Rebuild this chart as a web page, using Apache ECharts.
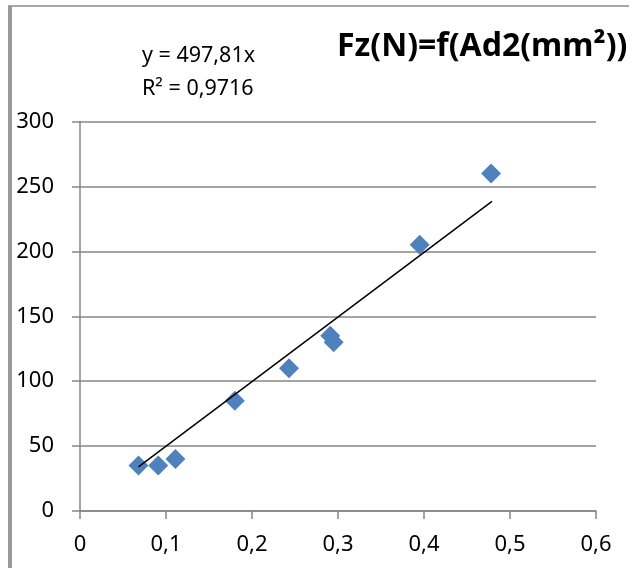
<!DOCTYPE html>
<html>
<head>
<meta charset="utf-8">
<script src="https://cdn.jsdelivr.net/npm/echarts@6/dist/echarts.min.js"></script>
<style>
html,body{margin:0;padding:0;background:#fff;}
#chart{width:629px;height:568px;}
</style>
</head>
<body>
<div id="chart"></div>
<script>
// Data
var xValues = [0.068, 0.091, 0.111, 0.180, 0.243, 0.291, 0.295, 0.395, 0.478];
var yValues = [35, 35, 40, 85, 110, 135, 130, 205, 260];
// Trendline endpoints (y = 497,81x) as drawn in the picture
var trendX = [0.068, 0.479];
var trendY = [34, 238.5];
var titleText = 'Fz(N)=f(Ad2(mm²))';
var equationLines = ['y = 497,81x', 'R² = 0,9716'];

var points = xValues.map(function (x, i) { return [x, yValues[i]]; });
var trend = trendX.map(function (x, i) { return [x, trendY[i]]; });

var FONT = '"Noto Sans", sans-serif';
var GRAY = '#868686';

var chart = echarts.init(document.getElementById('chart'), null, {renderer: 'canvas'});
chart.setOption({
  backgroundColor: '#ffffff',
  animation: false,
  title: [
    {
      text: titleText,
      left: 332, top: 26,
      textStyle: {fontFamily: FONT, fontSize: 32, fontWeight: 'bold', color: '#000'}
    },
    {
      text: equationLines.join('\n'),
      left: 137, top: 34,
      textStyle: {fontFamily: FONT, fontSize: 21.5, fontWeight: 'normal', color: '#000', lineHeight: 33}
    }
  ],
  graphic: [
    {type: 'line', shape: {x1: 8, y1: 6, x2: 629, y2: 6}, style: {stroke: '#8a8a8a', lineWidth: 1.5}},
    {type: 'rect', shape: {x: 8, y: 6, width: 4, height: 562}, style: {fill: '#9a9a9a'}}
  ],
  grid: {left: 80, right: 33, top: 121.5, bottom: 57, outerBoundsMode: 'none', containLabel: false},
  xAxis: {
    type: 'value', min: 0, max: 0.6, interval: 0.1,
    axisLine: {show: true, lineStyle: {color: GRAY, width: 1.5}},
    axisTick: {show: true, inside: false, length: 8, lineStyle: {color: GRAY, width: 1.5}},
    splitLine: {show: false},
    axisLabel: {
      show: true, margin: 23, showMinLabel: true, showMaxLabel: true,
      fontFamily: FONT, fontSize: 22, color: '#000', lineHeight: 22,
      formatter: function (v) { return v === 0 ? '0' : v.toFixed(1).replace('.', ','); }
    }
  },
  yAxis: {
    type: 'value', min: 0, max: 300, interval: 50,
    axisLine: {show: true, lineStyle: {color: GRAY, width: 1.5}},
    axisTick: {show: true, inside: false, length: 8, lineStyle: {color: GRAY, width: 1.5}},
    splitLine: {show: true, lineStyle: {color: GRAY, width: 1.5}},
    axisLabel: {
      show: true, margin: 26, showMinLabel: true, showMaxLabel: true,
      fontFamily: FONT, fontSize: 22, color: '#000'
    }
  },
  series: [
    {
      type: 'scatter', data: points, symbol: 'diamond', symbolSize: 20,
      itemStyle: {color: '#4F81BD', opacity: 1}, z: 2
    },
    {
      type: 'line', data: trend, showSymbol: false, symbol: 'none',
      lineStyle: {color: '#000', width: 1.5}, z: 3
    }
  ]
});
</script>
</body>
</html>
